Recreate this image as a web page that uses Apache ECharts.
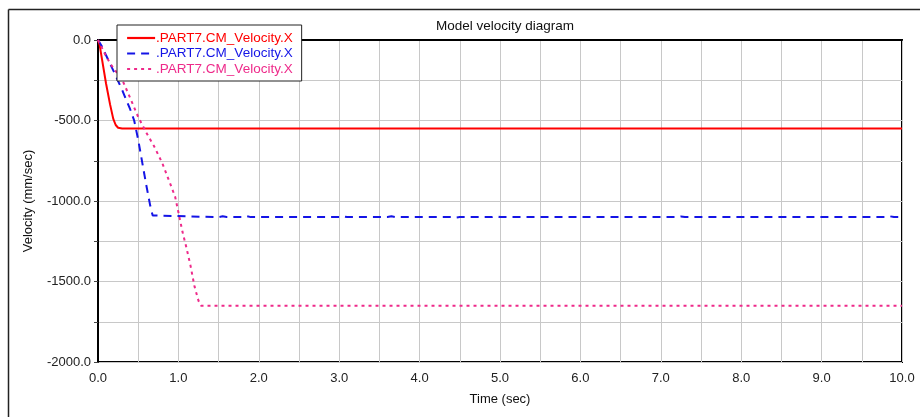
<!DOCTYPE html>
<html>
<head>
<meta charset="utf-8">
<script src="https://cdn.jsdelivr.net/npm/echarts@6/dist/echarts.min.js"></script>
<style>
  html, body { margin: 0; padding: 0; background: #fff; }
  #main { width: 920px; height: 417px; }
</style>
</head>
<body>
<div id="main"></div>
<script>
// data: [time (sec), velocity (mm/sec)]
var seriesLabel = '.PART7.CM_Velocity.X';

var redData = [
  [0, 0], [0.02, -30], [0.05, -120], [0.1, -270], [0.15, -400],
  [0.19, -490], [0.22, -528], [0.25, -545], [0.3, -550], [10, -550]
];

var blueData = [
  [0, 0], [0.05, -40], [0.1, -95], [0.2, -200], [0.3, -310], [0.4, -430],
  [0.45, -500], [0.5, -620], [0.55, -760], [0.6, -900], [0.65, -1030],
  [0.68, -1090], [0.7, -1100], [1.5, -1100], [1.55, -1095], [1.6, -1100],
  [1.8, -1100], [1.85, -1094], [1.9, -1100], [3.0, -1100], [3.05, -1095],
  [3.1, -1100], [3.6, -1100], [3.65, -1095], [3.7, -1100], [4.4, -1100],
  [4.45, -1104], [4.5, -1100], [4.9, -1100], [4.95, -1095], [5.0, -1100],
  [7.2, -1100], [7.25, -1096], [7.3, -1100], [9.8, -1100], [9.85, -1095],
  [9.9, -1100], [10, -1100]
];

var pinkData = [
  [0, 0], [0.05, -50], [0.1, -100], [0.15, -145], [0.2, -180], [0.3, -245],
  [0.4, -360], [0.5, -478], [0.6, -575], [0.7, -662], [0.8, -765],
  [0.9, -895], [0.96, -975], [1.0, -1070], [1.05, -1190], [1.1, -1290],
  [1.15, -1400], [1.2, -1530], [1.25, -1620], [1.28, -1650], [10, -1650]
];

var colors = ['#ff0000', '#1414e6', '#ee2a8a'];
var xTicks = { min: 0, max: 10, step: 0.5 };
var yTicks = { min: -2000, max: 0, step: 250 };

var font = 'Liberation Sans, Arial, sans-serif';
var chart = echarts.init(document.getElementById('main'));

var option = {
  backgroundColor: '#fff',
  animation: false,
  title: {
    text: 'Model velocity diagram',
    left: 500, top: 14,
    textAlign: 'center',
    textStyle: { fontSize: 13.5, fontWeight: 'normal', color: '#111', fontFamily: font }
  },
  legend: {
    orient: 'vertical',
    left: 117, top: 25,
    padding: [6, 9, 5, 9],
    itemGap: 1.5,
    itemWidth: 28, itemHeight: 14,
    backgroundColor: '#fff',
    borderColor: '#222', borderWidth: 1,
    itemStyle: { opacity: 0 },
    lineStyle: { width: 2.2 },
    formatter: function () { return seriesLabel; },
    textStyle: { fontSize: 13.5, fontFamily: font, padding: [0, 0, 0, -4] },
    data: [
      { name: 's1', textStyle: { color: colors[0] } },
      { name: 's2', textStyle: { color: colors[1] } },
      { name: 's3', textStyle: { color: colors[2] } }
    ]
  },
  grid: {
    left: 98, right: 18, top: 40, bottom: 55,
    show: true, borderColor: '#000', borderWidth: 2
  },
  xAxis: {
    type: 'value',
    min: xTicks.min, max: xTicks.max, interval: xTicks.step,
    name: 'Time (sec)', nameLocation: 'middle', nameGap: 31,
    nameTextStyle: { fontSize: 13, color: '#111', fontFamily: font },
    axisLine: { lineStyle: { color: '#000', width: 2 } },
    axisTick: { show: false },
    splitLine: { lineStyle: { color: '#c8c8c8', width: 1 } },
    axisLabel: {
      margin: 10, fontSize: 13, color: '#222', fontFamily: font,
      formatter: function (v) { return v % 1 === 0 ? v.toFixed(1) : ''; }
    }
  },
  yAxis: {
    type: 'value',
    min: yTicks.min, max: yTicks.max, interval: yTicks.step,
    name: 'Velocity (mm/sec)', nameLocation: 'middle', nameGap: 63,
    nameTextStyle: { fontSize: 13, color: '#111', fontFamily: font },
    axisLine: { lineStyle: { color: '#000', width: 2 } },
    axisTick: { show: true, length: 4, lineStyle: { color: '#444' } },
    splitLine: { lineStyle: { color: '#c8c8c8', width: 1 } },
    axisLabel: {
      margin: 7, fontSize: 13, color: '#222', fontFamily: font,
      formatter: function (v) { return v % 500 === 0 ? v.toFixed(1) : ''; }
    }
  },
  graphic: [
    { type: 'line', shape: { x1: 8.5, y1: 9.5, x2: 920, y2: 9.5 }, style: { stroke: '#222', lineWidth: 1.5 } },
    { type: 'line', shape: { x1: 8.5, y1: 9.5, x2: 8.5, y2: 417 }, style: { stroke: '#222', lineWidth: 1.5 } }
  ],
  series: [
    {
      name: 's1', type: 'line', data: redData, symbol: 'none',
      lineStyle: { color: colors[0], width: 2 }, itemStyle: { color: colors[0] }
    },
    {
      name: 's2', type: 'line', data: blueData, symbol: 'none',
      lineStyle: { color: colors[1], width: 2, type: [8, 6] }, itemStyle: { color: colors[1] }
    },
    {
      name: 's3', type: 'line', data: pinkData, symbol: 'none',
      lineStyle: { color: colors[2], width: 2, type: [3, 4] }, itemStyle: { color: colors[2] }
    }
  ]
};

chart.setOption(option);
</script>
</body>
</html>
